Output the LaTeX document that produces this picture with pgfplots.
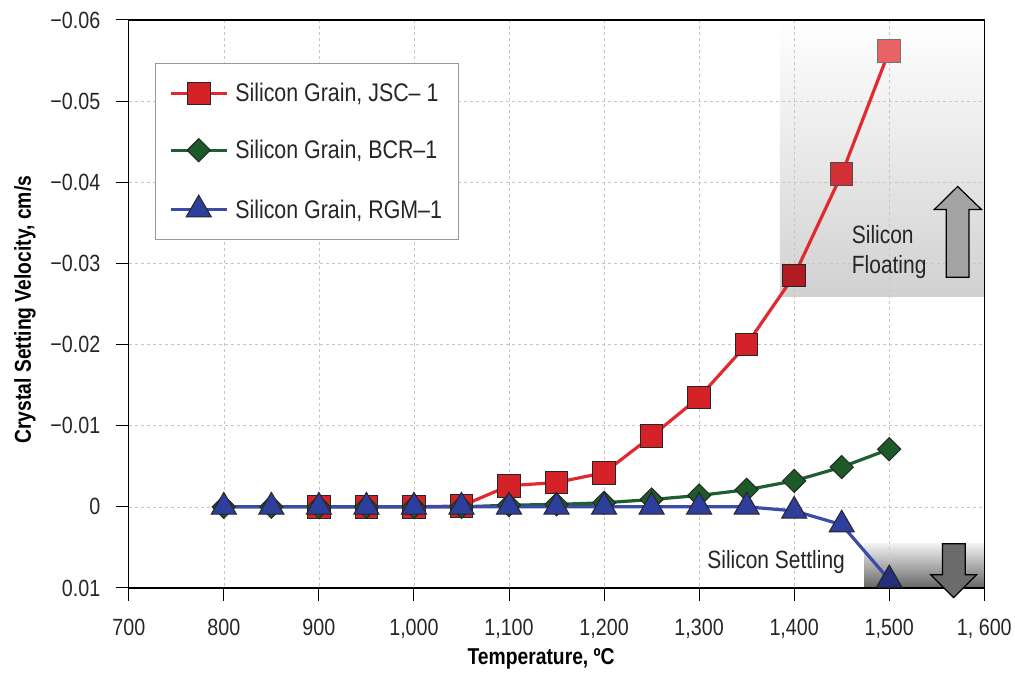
\documentclass[border=0pt]{standalone}
\usepackage{pgfplots}
\pgfplotsset{compat=1.18}
\usepackage{fontspec}
\setmainfont{Liberation Sans}[FakeStretch=0.84]
\definecolor{jred}{HTML}{E12A30}
\definecolor{jredm}{HTML}{D52128}
\definecolor{jredA}{HTML}{B01C22}
\definecolor{jredB}{HTML}{D23036}
\definecolor{jredC}{HTML}{E86266}
\definecolor{bgreen}{HTML}{1F5E2F}
\definecolor{bgreenm}{HTML}{1C5A2A}
\definecolor{rblue}{HTML}{3A4BA8}
\definecolor{rbluem}{HTML}{2D3E9C}
\definecolor{rblueD}{HTML}{24307E}
\begin{document}
\begin{tikzpicture}
\begin{axis}[
  at={(129pt,84pt)}, anchor=south west,
  scale only axis, width=857pt, height=569pt,
  set layers, clip=false,
  xmin=700, xmax=1600, ymin=-0.06, ymax=0.01, y dir=reverse,
  scaled y ticks=false,
  xtick={700,800,900,1000,1100,1200,1300,1400,1500,1600},
  xticklabels={700,800,900,{1,000},{1,100},{1,200},{1,300},{1,400},{1,500},{1, 600}},
  ytick={-0.06,-0.05,-0.04,-0.03,-0.02,-0.01,0,0.01},
  yticklabels={−0.06,−0.05,−0.04,−0.03,−0.02,−0.01,0,0.01},
  tick align=outside, xtick pos=left, ytick pos=left,
  major tick length=13pt,
  tick style={black, line width=1pt},
  grid=major, grid style={dashed, gray!45, line width=0.6pt},
  axis line style={black, line width=1.3pt},
  tick label style={font=\fontsize{23.5}{25}\selectfont, text=black!85},
  xticklabel style={yshift=-15pt},
  yticklabel style={xshift=-12pt},
  xlabel={Temperature, ºC}, ylabel={Crystal Setting Velocity, cm/s},
  label style={font=\bfseries\fontsize{23}{26}\selectfont},
  xlabel style={at={(axis description cs:0.482,-0.1248)}, anchor=center},
  ylabel style={at={(axis description cs:-0.1214,0.49)}, anchor=center},
  legend style={at={(0.0303,0.9244)}, anchor=north west, draw=gray!80, line width=1pt,
    fill=white, font=\fontsize{25.5}{27}\selectfont, inner xsep=14pt, inner ysep=18pt,
    row sep=33pt, text=black!85,
    /tikz/every odd column/.append style={column sep=5pt}},
  legend cell align=left,
  legend image code/.code={\draw[#1, mark repeat=2, mark phase=2] plot coordinates {(0pt,0pt) (28pt,0pt) (56pt,0pt)};},
]
\addplot[draw=none, top color=white, bottom color=black!18!white, forget plot, on layer=axis background]
 coordinates {(1385,-0.06) (1600,-0.06) (1600,-0.02595) (1385,-0.02595)} -- cycle;
\addplot[draw=none, top color=black!5!white, bottom color=black!60!white, forget plot, on layer=axis background]
 coordinates {(1474,0.0045) (1600,0.0045) (1600,0.01) (1474,0.01)} -- cycle;

\addplot[jred, line width=3.2pt, mark=square*, mark size=11.3pt, mark options={fill=jredm, draw=black!85, line width=1pt}]
coordinates {(900,0) (950,0) (1000,0) (1050,-0.0001) (1100,-0.0026) (1150,-0.0030) (1200,-0.0042) (1250,-0.0087) (1300,-0.0135) (1350,-0.0200) (1400,-0.0285) (1450,-0.0410) (1500,-0.0562)};
\addlegendentry{Silicon Grain, JSC– 1}
\addplot[bgreen, line width=3.2pt, mark=square*, mark size=8.2pt, mark options={rotate=45, fill=bgreenm, draw=black!85, line width=1pt}]
coordinates {(800,0) (850,0) (900,0) (950,0) (1000,0) (1050,0) (1100,-0.0002) (1150,-0.0003) (1200,-0.0005) (1250,-0.0009) (1300,-0.0014) (1350,-0.0021) (1400,-0.0032) (1450,-0.0049) (1500,-0.0071)};
\addlegendentry{Silicon Grain, BCR–1}
\addplot[rblue, line width=3.2pt, mark=triangle*, mark size=14.5pt, mark options={fill=rbluem, draw=black!85, line width=1pt}]
coordinates {(800,0) (850,0) (900,0) (950,0) (1000,0) (1050,0) (1100,0) (1150,0) (1200,0) (1250,0) (1300,0) (1350,0) (1400,0.0005) (1450,0.0022) (1500,0.0090)};
\addlegendentry{Silicon Grain, RGM–1}

\addplot[forget plot, only marks, mark=square*, mark size=11.3pt, mark options={fill=jredA, draw=black!85, line width=1pt}] coordinates {(1400,-0.0285)};
\addplot[forget plot, only marks, mark=square*, mark size=11.3pt, mark options={fill=jredB, draw=black!70, line width=1pt}] coordinates {(1450,-0.0410)};
\addplot[forget plot, only marks, mark=square*, mark size=11.3pt, mark options={fill=jredC, draw=black!55, line width=1pt}] coordinates {(1500,-0.0562)};
\addplot[forget plot, only marks, mark=triangle*, mark size=14.5pt, mark options={fill=rblueD, draw=black!85, line width=1pt}] coordinates {(1500,0.0090)};

\draw[black, line width=1.2pt, fill=black!36!white]
 (axis cs:1560,-0.02829) -- (axis cs:1560,-0.03665) -- (axis cs:1547.5,-0.03665) -- (axis cs:1572,-0.03948)
 -- (axis cs:1597,-0.03665) -- (axis cs:1584,-0.03665) -- (axis cs:1584,-0.02829) -- cycle;
\draw[black, line width=1.2pt, fill=black!58!white]
 (axis cs:1556,0.00455) -- (axis cs:1556,0.00836) -- (axis cs:1543.5,0.00836) -- (axis cs:1567.7,0.01119)
 -- (axis cs:1592,0.00836) -- (axis cs:1580,0.00836) -- (axis cs:1580,0.00455) -- cycle;

\node[anchor=west, align=left, font=\fontsize{25}{30}\selectfont, text=black!85] at (axis cs:1457,-0.0314) {Silicon\\Floating};
\node[font=\fontsize{25}{27}\selectfont, text=black!85] at (axis cs:1381,0.0068) {Silicon Settling};
\end{axis}
\path (0,0) rectangle (1015pt,673pt);
\end{tikzpicture}
\end{document}
